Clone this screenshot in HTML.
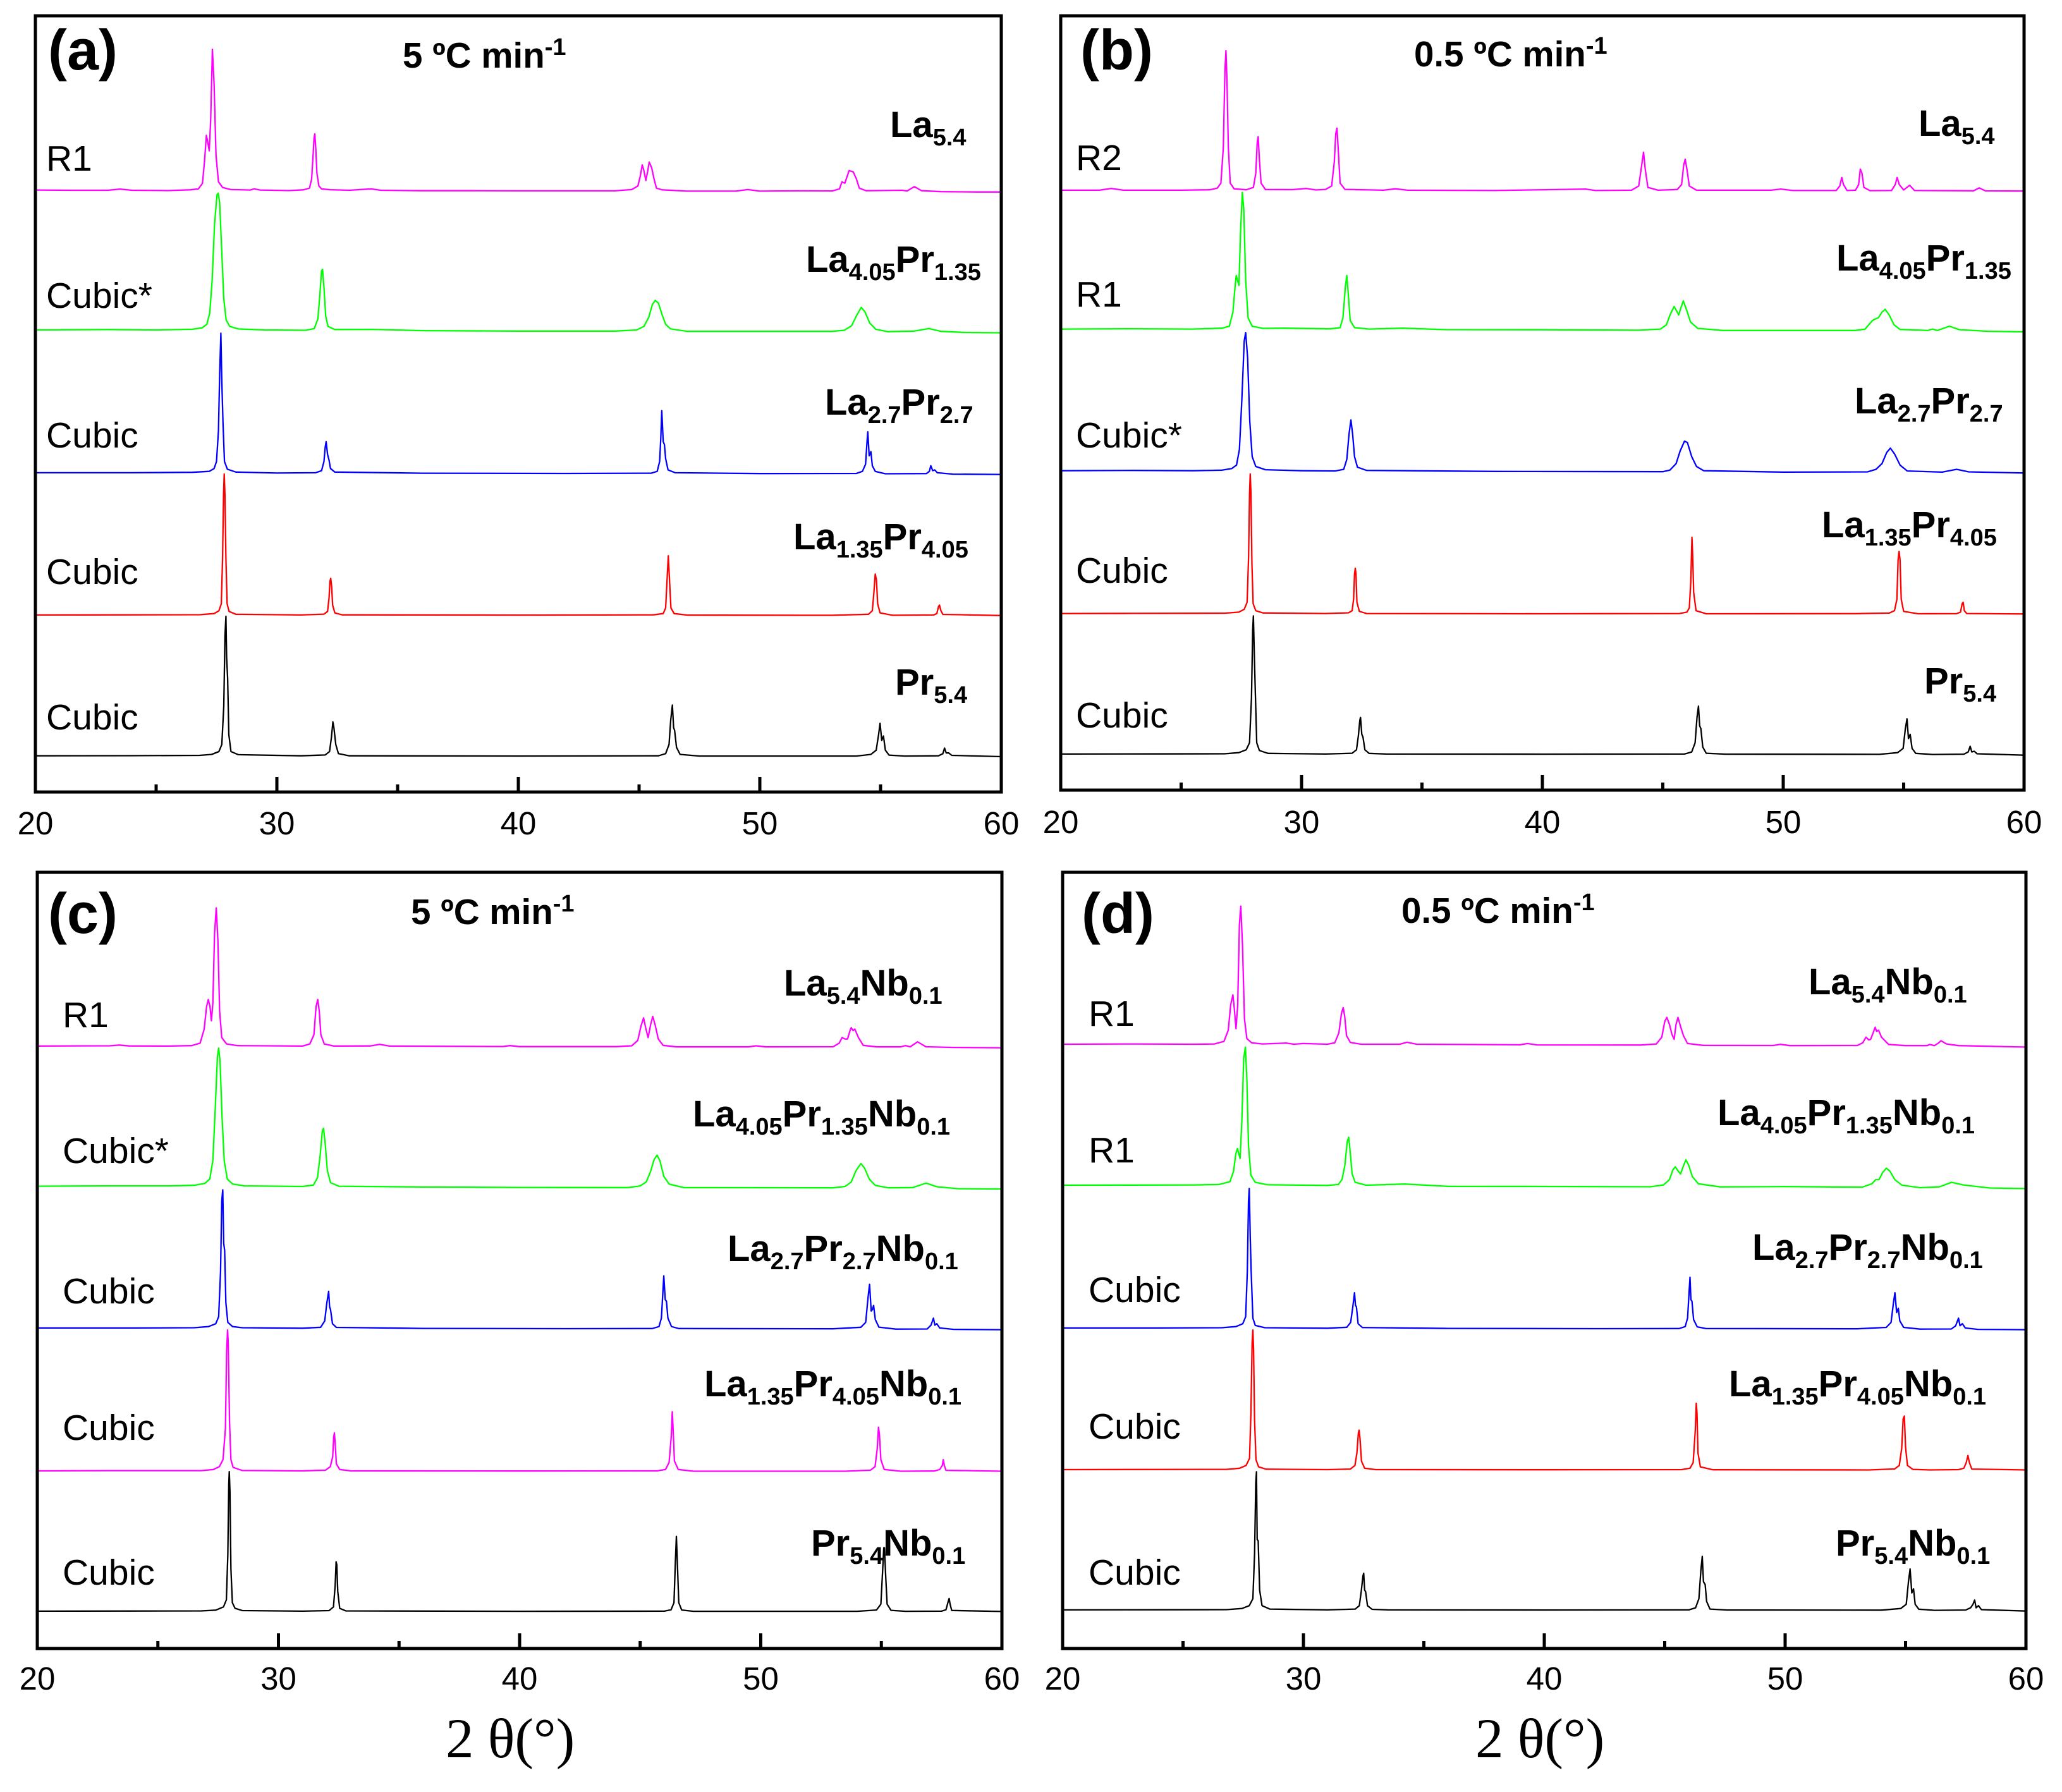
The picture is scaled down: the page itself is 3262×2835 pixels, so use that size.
<!DOCTYPE html>
<html lang="en">
<head>
<meta charset="utf-8">
<title>XRD patterns</title>
<style>
html,body{margin:0;padding:0;background:#fff;}
svg{display:block;}
text{font-family:"Liberation Sans",sans-serif;fill:#000;}
.pl{font-size:90px;font-weight:700;transform:translateY(2px);}
.ti{font-size:56.5px;font-weight:700;}
.ph{font-size:57px;transform:translateX(-2px);}
.co{font-size:58px;font-weight:700;transform:translate(-2px,1px);}
.co .s{font-size:38px;}
.ti .u{font-size:38px;}
.xl{font-family:"Liberation Serif",serif;font-size:89px;}
.tk{font-size:51px;text-anchor:middle;}
</style>
</head>
<body>
<svg id="fig" xmlns="http://www.w3.org/2000/svg" width="3262" height="2835" viewBox="0 0 3262 2835">
<rect x="0" y="0" width="3262" height="2835" fill="#fff"/>
<g id="plots"></g>

<text class="pl" x="76" y="108">(a)</text>
<text class="ti" x="637" y="107">5 ºC min<tspan class="u" dy="-20">-1</tspan></text>
<text class="ph" x="75" y="270">R1</text>
<text class="ph" x="75" y="487">Cubic*</text>
<text class="ph" x="75" y="708">Cubic</text>
<text class="ph" x="75" y="924">Cubic</text>
<text class="ph" x="75" y="1154">Cubic</text>
<text class="co" x="1410" y="216">La<tspan class="s" dy="13">5.4</tspan></text>
<text class="co" x="1277" y="429">La<tspan class="s" dy="13">4.05</tspan><tspan dy="-13">Pr</tspan><tspan class="s" dy="13">1.35</tspan></text>
<text class="co" x="1307" y="655">La<tspan class="s" dy="13">2.7</tspan><tspan dy="-13">Pr</tspan><tspan class="s" dy="13">2.7</tspan></text>
<text class="co" x="1257" y="868">La<tspan class="s" dy="13">1.35</tspan><tspan dy="-13">Pr</tspan><tspan class="s" dy="13">4.05</tspan></text>
<text class="co" x="1418" y="1098">Pr<tspan class="s" dy="13">5.4</tspan></text>

<text class="pl" x="1709" y="108">(b)</text>
<text class="ti" x="2237" y="105">0.5 ºC min<tspan class="u" dy="-20">-1</tspan></text>
<text class="ph" x="1704" y="269">R2</text>
<text class="ph" x="1704" y="485">R1</text>
<text class="ph" x="1704" y="708">Cubic*</text>
<text class="ph" x="1704" y="922">Cubic</text>
<text class="ph" x="1704" y="1151">Cubic</text>
<text class="co" x="3037" y="214">La<tspan class="s" dy="13">5.4</tspan></text>
<text class="co" x="2907" y="427">La<tspan class="s" dy="13">4.05</tspan><tspan dy="-13">Pr</tspan><tspan class="s" dy="13">1.35</tspan></text>
<text class="co" x="2936" y="653">La<tspan class="s" dy="13">2.7</tspan><tspan dy="-13">Pr</tspan><tspan class="s" dy="13">2.7</tspan></text>
<text class="co" x="2884" y="849">La<tspan class="s" dy="13">1.35</tspan><tspan dy="-13">Pr</tspan><tspan class="s" dy="13">4.05</tspan></text>
<text class="co" x="3046" y="1096">Pr<tspan class="s" dy="13">5.4</tspan></text>

<text class="pl" x="76" y="1474">(c)</text>
<text class="ti" x="650" y="1462">5 ºC min<tspan class="u" dy="-20">-1</tspan></text>
<text class="ph" x="101" y="1625">R1</text>
<text class="ph" x="101" y="1840">Cubic*</text>
<text class="ph" x="101" y="2062">Cubic</text>
<text class="ph" x="101" y="2278">Cubic</text>
<text class="ph" x="101" y="2507">Cubic</text>
<text class="co" x="1242" y="1574">La<tspan class="s" dy="13">5.4</tspan><tspan dy="-13">Nb</tspan><tspan class="s" dy="13">0.1</tspan></text>
<text class="co" x="1098" y="1781">La<tspan class="s" dy="13">4.05</tspan><tspan dy="-13">Pr</tspan><tspan class="s" dy="13">1.35</tspan><tspan dy="-13">Nb</tspan><tspan class="s" dy="13">0.1</tspan></text>
<text class="co" x="1153" y="1994">La<tspan class="s" dy="13">2.7</tspan><tspan dy="-13">Pr</tspan><tspan class="s" dy="13">2.7</tspan><tspan dy="-13">Nb</tspan><tspan class="s" dy="13">0.1</tspan></text>
<text class="co" x="1116" y="2208">La<tspan class="s" dy="13">1.35</tspan><tspan dy="-13">Pr</tspan><tspan class="s" dy="13">4.05</tspan><tspan dy="-13">Nb</tspan><tspan class="s" dy="13">0.1</tspan></text>
<text class="co" x="1285" y="2460">Pr<tspan class="s" dy="13">5.4</tspan><tspan dy="-13">Nb</tspan><tspan class="s" dy="13">0.1</tspan></text>
<text class="xl" x="705" y="2780" xml:space="preserve">2 θ(°)</text>

<text class="pl" x="1711" y="1474">(d)</text>
<text class="ti" x="2217" y="1460">0.5 ºC min<tspan class="u" dy="-20">-1</tspan></text>
<text class="ph" x="1724" y="1623">R1</text>
<text class="ph" x="1724" y="1839">R1</text>
<text class="ph" x="1724" y="2060">Cubic</text>
<text class="ph" x="1724" y="2276">Cubic</text>
<text class="ph" x="1724" y="2507">Cubic</text>
<text class="co" x="2863" y="1572">La<tspan class="s" dy="13">5.4</tspan><tspan dy="-13">Nb</tspan><tspan class="s" dy="13">0.1</tspan></text>
<text class="co" x="2719" y="1779">La<tspan class="s" dy="13">4.05</tspan><tspan dy="-13">Pr</tspan><tspan class="s" dy="13">1.35</tspan><tspan dy="-13">Nb</tspan><tspan class="s" dy="13">0.1</tspan></text>
<text class="co" x="2774" y="1992">La<tspan class="s" dy="13">2.7</tspan><tspan dy="-13">Pr</tspan><tspan class="s" dy="13">2.7</tspan><tspan dy="-13">Nb</tspan><tspan class="s" dy="13">0.1</tspan></text>
<text class="co" x="2737" y="2208">La<tspan class="s" dy="13">1.35</tspan><tspan dy="-13">Pr</tspan><tspan class="s" dy="13">4.05</tspan><tspan dy="-13">Nb</tspan><tspan class="s" dy="13">0.1</tspan></text>
<text class="co" x="2906" y="2460">Pr<tspan class="s" dy="13">5.4</tspan><tspan dy="-13">Nb</tspan><tspan class="s" dy="13">0.1</tspan></text>
<text class="xl" x="2334" y="2780" xml:space="preserve">2 θ(°)</text>
</svg>

<script>
// Shared axis values
const majorTicks = [20, 30, 40, 50, 60];
const minorTicks = [25, 35, 45, 55];
const majorTickLabels = ["20", "30", "40", "50", "60"];

// Stack offsets of each pattern (a.u.), top pattern first
const offsetsA = [426.9, 327.8, 226.5, 125.6, 25.7];
const offsetsB = [425.6, 327.1, 226.6, 125.3, 25.6];
const offsetsC = [427.4, 328, 227.4, 126, 26.5];
const offsetsD = [428.7, 328.7, 227.4, 126.9, 27.4];

// [2theta, intensity a.u.]
const A_La54 = [[20,.2],[21.5,0],[23,0],[23.5,.8],[24,0],[25.5,-.2],[26.4,.3],[26.75,1],[26.92,5],[27,20],[27.08,39],[27.14,34],[27.2,28],[27.26,50],[27.33,100],[27.4,75],[27.48,25],[27.58,6],[27.75,2],[28.1,.5],[28.9,.2],[29.05,1],[29.3,.2],[30.5,-.2],[31.1,.3],[31.35,1.5],[31.44,8],[31.5,25],[31.54,37],[31.57,40],[31.61,30],[31.66,12],[31.74,3],[31.85,1],[32.2,.4],[33,0],[33.9,1],[34.3,0],[36,-.3],[38,-.3],[40,-.4],[42,-.4],[44,-.4],[44.7,.5],[44.95,3],[45.05,10],[45.13,18],[45.2,14],[45.28,7],[45.35,13],[45.42,20],[45.52,16],[45.62,8],[45.72,1.5],[45.95,.3],[47,-.6],[49,-.6],[49.5,.5],[50,-.6],[51.8,-.4],[53,-.5],[53.3,1],[53.4,6],[53.52,5],[53.7,14],[53.87,13],[54,8],[54.12,1.5],[54.4,-.3],[55.9,0],[56.1,-.5],[56.4,2.6],[56.7,-.3],[57.5,-1],[59,-1.2],[60,-1.2]];
const A_La405Pr135 = [[20,0],[23,.3],[25,0],[26.5,.5],[26.9,1.5],[27.1,4],[27.22,12],[27.32,35],[27.42,75],[27.52,96],[27.57,97],[27.63,90],[27.72,55],[27.8,22],[27.9,7],[28.05,2.5],[28.4,.7],[29.5,0],[31.2,-.2],[31.55,1],[31.7,8],[31.78,25],[31.85,42],[31.89,43],[31.95,30],[32.02,10],[32.12,2.5],[32.4,.3],[34,.4],[36,-.5],[40,-.8],[44,-.8],[44.9,0],[45.2,2.5],[45.4,9],[45.55,18],[45.67,21],[45.8,19],[45.95,11],[46.1,4],[46.3,.8],[47,-1],[50,-1],[53,-1],[53.5,-.2],[53.8,3],[54,10],[54.2,16],[54.35,13],[54.55,5],[54.8,.5],[55.3,-1.2],[56.4,-.8],[57,1],[57.5,-1],[58.5,-1.8],[60,-2]];
const A_La27Pr27 = [[20,0],[24,0],[26.5,.3],[27.2,1],[27.4,3],[27.5,8],[27.58,30],[27.63,70],[27.68,99],[27.72,65],[27.77,35],[27.83,8],[27.95,2.5],[28.3,.5],[30,-.2],[31.6,0],[31.85,1.5],[31.95,8],[32,18],[32.04,22],[32.1,13],[32.16,9],[32.22,3],[32.4,.5],[36,-.3],[42,-.5],[45.5,-.3],[45.75,1],[45.85,8],[45.9,25],[45.94,44],[46,22],[46.05,20],[46.1,10],[46.2,2],[46.5,0],[50,-.6],[54,-.5],[54.25,1],[54.38,6],[54.44,22],[54.47,29],[54.53,12],[54.6,15],[54.66,5],[54.78,1],[55.2,-.7],[56.9,-.6],[57.02,1],[57.08,5],[57.16,1.5],[57.24,2],[57.35,0],[58,-1],[60,-1.2]];
const A_La135Pr405 = [[20,0],[24,.1],[26.8,.2],[27.4,1],[27.6,3],[27.7,8],[27.75,40],[27.79,85],[27.82,100],[27.85,85],[27.89,40],[27.94,8],[28.02,2.5],[28.3,.5],[31,0],[31.95,.6],[32.1,2.5],[32.16,12],[32.2,24],[32.23,26],[32.27,20],[32.31,7],[32.4,1.5],[32.7,.1],[40,-.1],[45.6,.1],[46,1],[46.1,5],[46.16,25],[46.21,42],[46.26,25],[46.32,5],[46.45,1],[47,-.1],[53,-.2],[54.5,.5],[54.66,3],[54.72,15],[54.78,29],[54.83,25],[54.88,8],[54.98,1.5],[55.5,-.2],[57.2,0],[57.33,1],[57.4,6],[57.44,7],[57.5,3],[57.58,.4],[60,-.4]];
const A_Pr54 = [[20,0],[24,.1],[26.8,.3],[27.3,1],[27.6,3],[27.72,8],[27.8,35],[27.85,85],[27.89,99],[27.92,70],[27.96,55],[28.01,15],[28.1,3],[28.4,.8],[31,0],[32,.6],[32.18,3],[32.26,13],[32.32,24],[32.36,20],[32.44,8],[32.55,1.5],[33,0],[40,-.2],[45.8,0],[46.1,1.5],[46.24,8],[46.31,25],[46.38,36],[46.43,20],[46.47,18],[46.55,6],[46.7,1],[47.5,-.2],[54,-.2],[54.6,1],[54.82,4],[54.92,15],[54.98,23],[55.05,11],[55.12,14],[55.2,4],[55.35,.5],[56,-.2],[57.4,0],[57.58,1.5],[57.65,5.5],[57.72,2],[57.82,2],[57.95,.3],[60,-.6]];

const B_La54 = [[20,0],[21.6,0],[22.1,1.2],[22.6,0],[25,0],[26.2,.3],[26.5,1.5],[26.65,5],[26.75,30],[26.82,85],[26.86,99],[26.9,80],[26.96,30],[27.04,5],[27.2,1],[27.7,.3],[28,2],[28.1,12],[28.16,34],[28.2,38],[28.25,22],[28.32,5],[28.5,.5],[29.6,.4],[30.2,1.2],[30.6,.2],[31,.6],[31.25,3],[31.36,20],[31.42,40],[31.47,44],[31.52,30],[31.6,5],[31.8,.6],[33.4,0],[33.9,1],[34.4,0],[38,-.2],[41.8,.8],[42.2,-.2],[43.7,0],[44,3],[44.1,15],[44.2,27],[44.27,15],[44.38,2],[44.8,0],[45.6,.5],[45.78,4],[45.87,18],[45.93,22],[46,15],[46.1,3],[46.4,0],[49.5,0],[49.9,.8],[50.4,-.2],[52.2,-.2],[52.35,3],[52.43,9],[52.5,4],[52.65,-.2],[53,0],[53.13,4],[53.2,15],[53.27,12],[53.35,2],[53.6,-.3],[54.5,-.2],[54.65,4],[54.73,9],[54.82,4],[55,.2],[55.25,3.5],[55.45,-.2],[57.9,-.4],[58.14,1.6],[58.4,-.5],[60,-.6]];
const B_La405Pr135 = [[20,0],[23,.2],[25.5,0],[26.7,.6],[27,2],[27.15,12],[27.24,30],[27.29,38],[27.35,34],[27.4,31],[27.47,70],[27.54,97],[27.6,85],[27.68,35],[27.78,8],[27.95,2],[28.4,.5],[29.3,.6],[31.2,.1],[31.6,1],[31.72,8],[31.82,30],[31.88,38],[31.94,25],[32.02,6],[32.2,1],[32.8,0],[34.2,.6],[36,-.4],[40,-.5],[44,-.8],[44.9,0],[45.15,3],[45.3,10],[45.47,16],[45.6,12],[45.66,10],[45.75,15],[45.85,20],[45.98,14],[46.15,5],[46.45,.5],[47.5,-1],[53,-1],[53.4,0],[53.7,6],[53.8,7],[53.95,8],[54.1,12],[54.23,14],[54.4,10],[54.6,3],[54.85,-.3],[56,-1],[56.2,0],[56.4,-1],[56.9,2],[57.3,-.4],[58.5,-1.6],[60,-2]];
const B_La27Pr27 = [[20,0],[23,.2],[25.5,0],[26.7,.4],[27.1,1.5],[27.3,4],[27.42,15],[27.52,50],[27.62,92],[27.68,98],[27.76,80],[27.85,35],[27.95,10],[28.1,3],[28.5,.7],[30,0],[31.4,-.2],[31.75,1],[31.88,8],[31.97,26],[32.05,36],[32.12,26],[32.2,10],[32.32,2.5],[32.7,.2],[38,-.5],[45,-.7],[45.3,.5],[45.55,5],[45.72,14],[45.9,21],[46.02,20],[46.2,10],[46.4,3],[46.7,0],[50,-1],[53.5,-.8],[53.85,1],[54.1,5],[54.3,13],[54.45,16],[54.62,12],[54.85,4],[55.15,-.2],[56.6,-1],[57.2,1],[57.7,-.8],[60,-1.6]];
const B_La135Pr405 = [[20,0],[23,.1],[26.8,.2],[27.4,1],[27.62,3],[27.74,8],[27.8,40],[27.84,85],[27.87,99],[27.9,85],[27.94,35],[27.99,7],[28.1,2],[28.4,.4],[31,0],[31.95,.5],[32.1,2],[32.16,10],[32.2,28],[32.23,32],[32.26,28],[32.3,8],[32.4,1.5],[32.7,0],[40,-.2],[45.7,0],[46,1],[46.1,4],[46.16,22],[46.21,54],[46.24,42],[46.28,15],[46.38,2],[46.8,-.2],[53,-.1],[54.4,.3],[54.62,2],[54.72,10],[54.77,38],[54.81,44],[54.85,38],[54.9,10],[55,1.5],[55.6,-.2],[57.2,-.1],[57.36,1],[57.43,7],[57.47,8],[57.52,2],[57.62,0],[60,-.3]];
const B_Pr54 = [[20,0],[24,.1],[26.8,.2],[27.4,1],[27.7,3],[27.84,8],[27.92,40],[27.97,88],[28,98],[28.04,70],[28.08,45],[28.14,8],[28.25,2.5],[28.6,.5],[31,0],[32.1,.6],[32.28,3],[32.36,13],[32.42,24],[32.45,26],[32.5,14],[32.55,12],[32.63,3],[32.8,.5],[33.5,0],[40,-.1],[45.9,0],[46.2,1.5],[46.34,8],[46.42,26],[46.48,34],[46.53,20],[46.58,18],[46.66,5],[46.8,.6],[47.6,-.1],[54,-.2],[54.75,1],[54.98,4],[55.07,18],[55.14,25],[55.2,11],[55.27,14],[55.35,4],[55.5,.5],[56.2,-.3],[57.5,-.1],[57.68,1.5],[57.76,5.5],[57.83,1.5],[57.93,2],[58.05,.2],[60,-.8]];

const C_La54Nb = [[20,0],[23,.2],[23.4,.7],[23.8,.1],[25.5,0],[26.4,.3],[26.75,2],[26.92,12],[27.02,28],[27.09,33],[27.16,28],[27.22,18],[27.28,30],[27.35,80],[27.42,98],[27.49,75],[27.56,25],[27.65,6],[27.85,1.5],[28.3,.3],[31,0],[31.3,1.5],[31.47,8],[31.56,28],[31.63,33],[31.69,25],[31.76,8],[31.9,1.5],[32.3,0],[33.8,.1],[34.2,1.2],[34.6,0],[39.3,-.3],[39.6,.3],[40,-.4],[44,-.4],[44.65,.2],[44.9,4],[45.03,14],[45.14,20],[45.24,12],[45.33,6],[45.43,15],[45.52,21],[45.62,15],[45.75,5],[45.95,.5],[46.5,-.6],[49.5,-.6],[49.8,.2],[50.2,-.6],[53,-.5],[53.25,2],[53.37,6],[53.5,5],[53.6,5],[53.7,11],[53.75,13],[53.83,11],[53.9,12],[54.05,6],[54.25,.5],[54.8,-.6],[55.8,-.6],[56,.3],[56.2,-.5],[56.5,3],[56.85,-.5],[58,-1],[60,-1.2]];
const C_La405Pr135Nb = [[20,0],[23,.2],[25.5,.2],[26.5,.6],[26.95,2],[27.15,5],[27.28,18],[27.38,55],[27.47,92],[27.52,98],[27.58,88],[27.66,50],[27.75,18],[27.88,5],[28.1,1.5],[28.6,.2],[31,-.2],[31.45,.8],[31.62,6],[31.73,22],[31.82,39],[31.87,41],[31.94,30],[32.03,11],[32.16,2.5],[32.5,0],[36,-.6],[40,-.9],[44.5,-1],[45,.2],[45.25,3],[45.42,10],[45.58,19],[45.7,22],[45.82,18],[45.98,7],[46.2,1.5],[46.8,-1],[53,-1.2],[53.5,-.2],[53.75,3],[53.95,11],[54.15,16],[54.3,13],[54.5,5],[54.75,.5],[55.3,-1.2],[56.3,-1],[56.86,2.2],[57.3,-.4],[58.2,-1.8],[60,-2]];
const C_La27Pr27Nb = [[20,0],[24,0],[26.5,.2],[27.1,1],[27.4,3],[27.52,8],[27.6,40],[27.65,90],[27.69,98],[27.73,60],[27.77,55],[27.82,18],[27.9,4],[28.1,1],[28.5,.2],[31,-.2],[31.75,.5],[31.92,5],[32,17],[32.08,26],[32.12,15],[32.16,13],[32.24,3],[32.4,.4],[36,-.3],[42,-.5],[45.5,-.4],[45.78,1],[45.88,7],[45.94,25],[45.98,37],[46.04,20],[46.09,19],[46.15,7],[46.3,1],[46.6,-.4],[53,-.6],[54.15,.5],[54.35,4],[54.45,22],[54.51,31],[54.58,12],[54.63,13],[54.68,16],[54.75,6],[54.9,.6],[55.6,-.8],[56.9,-.7],[57.06,2],[57.16,7],[57.22,2],[57.3,3],[57.42,0],[58,-1],[60,-1.2]];
const C_La135Pr405Nb = [[20,0],[23,.2],[26.8,.2],[27.3,1],[27.55,3],[27.7,8],[27.8,30],[27.85,85],[27.89,100],[27.92,90],[27.97,35],[28.03,8],[28.12,2.5],[28.5,.3],[31,0],[31.95,.5],[32.15,3],[32.25,10],[32.29,24],[32.32,27],[32.35,20],[32.4,5],[32.54,1],[33,0],[40,-.1],[45.7,0],[46.05,1],[46.2,6],[46.29,25],[46.33,42],[46.37,28],[46.42,7],[46.58,1],[47.2,-.2],[53.5,-.2],[54.55,.5],[54.74,3],[54.83,16],[54.88,31],[54.92,26],[54.98,8],[55.12,1],[55.8,-.2],[57.2,-.1],[57.42,1],[57.53,4],[57.57,8],[57.61,4],[57.68,.4],[60,-.2]];
const C_Pr54Nb = [[20,0],[24,.1],[26.8,.2],[27.4,.7],[27.72,3],[27.84,8],[27.9,40],[27.94,90],[27.96,99],[27.99,85],[28.03,30],[28.09,6],[28.2,2],[28.5,.4],[31,0],[32.1,.4],[32.28,3],[32.35,18],[32.39,35],[32.42,33],[32.46,14],[32.54,2],[32.8,.2],[40,-.1],[46,0],[46.28,1],[46.4,6],[46.46,35],[46.5,53],[46.54,35],[46.6,6],[46.72,.8],[47.2,-.1],[54,-.1],[54.8,.8],[54.98,5],[55.05,28],[55.1,45],[55.13,45],[55.18,25],[55.24,5],[55.4,.6],[56,-.1],[57.5,0],[57.68,1],[57.76,6],[57.81,9],[57.85,5],[57.92,.5],[60,-.2]];

const D_La54Nb = [[20,0],[23,.2],[25.5,0],[26.3,.2],[26.7,2],[26.88,10],[26.98,28],[27.07,35],[27.13,25],[27.2,11],[27.27,28],[27.34,85],[27.4,98],[27.47,70],[27.55,18],[27.65,4],[27.85,1],[28.3,.2],[29.3,.8],[29.6,0],[30,.5],[31,0],[31.3,1],[31.47,8],[31.58,22],[31.65,26],[31.71,20],[31.79,6],[31.95,1.2],[32.4,0],[34,0],[34.3,1.4],[34.7,0],[39,-.4],[39.3,.5],[39.7,-.5],[44,-.6],[44.65,.2],[44.88,5],[45,16],[45.09,19],[45.2,14],[45.3,7],[45.39,3.5],[45.47,14],[45.55,19],[45.65,13],[45.78,6],[45.95,.5],[46.6,-.8],[49.5,-.9],[49.8,-.1],[50.2,-1],[53,-.9],[53.22,1],[53.36,5],[53.48,3],[53.55,3.5],[53.65,8],[53.74,12],[53.8,9],[53.88,10],[54,5],[54.3,-.2],[55,-1],[55.9,-1],[56,-.2],[56.2,-1],[56.38,1],[56.47,2.5],[56.7,.2],[57.2,-1],[60,-2]];
const D_La405Pr135Nb = [[20,0],[23,.1],[25.5,.2],[26.5,.5],[26.95,2.5],[27.1,10],[27.19,22],[27.26,26],[27.32,22],[27.37,19],[27.44,45],[27.52,90],[27.59,98],[27.65,75],[27.72,28],[27.82,7],[28,2],[28.5,.3],[31,-.2],[31.45,.5],[31.6,4],[31.72,14],[31.82,31],[31.88,34],[31.95,22],[32.02,8],[32.15,2],[32.6,0],[34.2,.8],[36,-.8],[40,-.9],[44.4,-1.1],[44.95,.2],[45.2,4],[45.34,11],[45.44,13],[45.56,10],[45.66,8],[45.76,13],[45.88,18],[46,14],[46.15,6],[46.4,1],[47.3,-1.2],[50,-1],[53.2,-1.4],[53.6,1],[53.77,4],[53.9,4],[54.05,9],[54.2,12],[54.35,10],[54.55,4],[54.85,0],[55.6,-1.8],[56.4,-1.2],[56.91,2],[57.4,.2],[58.5,-2],[60,-2.4]];
const D_La27Pr27Nb = [[20,0],[24,0],[26.6,.2],[27.2,1],[27.48,3],[27.6,8],[27.67,40],[27.72,90],[27.75,99],[27.79,65],[27.83,40],[27.9,7],[28,1.8],[28.4,.2],[31,-.2],[31.8,.5],[31.96,4],[32.05,15],[32.12,25],[32.16,16],[32.2,15],[32.27,3],[32.45,.3],[36,-.3],[42,-.5],[45.6,-.4],[45.85,1],[45.95,7],[46.01,25],[46.05,36],[46.09,20],[46.13,19],[46.2,6],[46.35,.8],[46.7,-.4],[53,-.6],[54.2,.4],[54.4,4],[54.5,18],[54.56,25],[54.63,11],[54.7,14],[54.76,5],[54.92,.4],[55.6,-.8],[56.9,-.7],[57.08,1.5],[57.2,7],[57.26,1.6],[57.36,3],[57.48,0],[58,-1],[60,-1.2]];
const D_La135Pr405Nb = [[20,0],[23,.1],[26.8,.2],[27.35,1],[27.62,3],[27.76,8],[27.82,40],[27.87,90],[27.9,99],[27.93,85],[27.97,35],[28.03,7],[28.14,2],[28.45,.3],[31,0],[31.95,.4],[32.14,3],[32.22,12],[32.28,26],[32.31,28],[32.35,22],[32.41,6],[32.54,1],[33,0],[40,-.1],[45.7,0],[46.05,1],[46.18,5],[46.27,28],[46.31,47],[46.34,40],[46.38,12],[46.48,2],[47,-.1],[53.5,-.2],[54.55,.5],[54.74,3],[54.84,15],[54.9,36],[54.95,38],[55,16],[55.08,3],[55.3,.2],[56,-.2],[57.2,0],[57.42,1],[57.52,5],[57.59,10],[57.65,5],[57.75,.4],[60,-.2]];
const D_Pr54Nb = [[20,0],[24,.1],[26.8,.2],[27.45,1],[27.75,3],[27.9,8],[27.97,40],[28.02,90],[28.05,98],[28.08,50],[28.12,49],[28.18,14],[28.28,3],[28.6,.6],[31,0],[32.15,.6],[32.32,3],[32.4,13],[32.47,24],[32.5,26],[32.54,14],[32.58,13],[32.66,3],[32.85,.4],[33.5,0],[40,-.1],[46,0],[46.28,1.5],[46.42,8],[46.5,28],[46.56,38],[46.61,20],[46.68,18],[46.74,6],[46.88,.6],[47.6,-.1],[54,-.2],[54.8,1],[55.03,4],[55.12,20],[55.19,29],[55.26,12],[55.33,15],[55.4,4],[55.55,.5],[56.2,-.3],[57.5,-.1],[57.7,1.5],[57.8,4],[57.87,7],[57.93,1.5],[58.03,3],[58.15,.2],[60,-.8]];

const seriesA = [A_La54, A_La405Pr135, A_La27Pr27, A_La135Pr405, A_Pr54];
const seriesB = [B_La54, B_La405Pr135, B_La27Pr27, B_La135Pr405, B_Pr54];
const seriesC = [C_La54Nb, C_La405Pr135Nb, C_La27Pr27Nb, C_La135Pr405Nb, C_Pr54Nb];
const seriesD = [D_La54Nb, D_La405Pr135Nb, D_La27Pr27Nb, D_La135Pr405Nb, D_Pr54Nb];

const NS = "http://www.w3.org/2000/svg";
const root = document.getElementById("plots");
const PX_PER_UNIT = 2.23;
const XMIN = 20, XMAX = 60;

const panels = [
  {id: "a", l: 56,   r: 1584, t: 25,   b: 1253, lab: 1320, series: seriesA, off: offsetsA, colors: ["#ff00ff", "#00ff00", "#0000ff", "#ff0000", "#000000"]},
  {id: "b", l: 1678, r: 3202, t: 25,   b: 1250, lab: 1318, series: seriesB, off: offsetsB, colors: ["#ff00ff", "#00ff00", "#0000ff", "#ff0000", "#000000"]},
  {id: "c", l: 59,   r: 1585, t: 1380, b: 2608, lab: 2673, series: seriesC, off: offsetsC, colors: ["#ff00ff", "#00ff00", "#0000ff", "#ff00ff", "#000000"]},
  {id: "d", l: 1681, r: 3205, t: 1380, b: 2608, lab: 2673, series: seriesD, off: offsetsD, colors: ["#ff00ff", "#00ff00", "#0000ff", "#ff0000", "#000000"]}
];

function drawPanel(p) {
  const xScale = v => p.l + (v - XMIN) / (XMAX - XMIN) * (p.r - p.l);
  const yScale = v => p.b - v * PX_PER_UNIT;

  p.series.forEach((pts, i) => {
    const d = pts.map((q, j) => (j ? "L" : "M") + xScale(q[0]).toFixed(1) + " " + yScale(q[1] + p.off[i]).toFixed(1)).join("");
    const path = document.createElementNS(NS, "path");
    path.setAttribute("d", d);
    path.setAttribute("fill", "none");
    path.setAttribute("stroke", p.colors[i]);
    path.setAttribute("stroke-width", "2.3");
    path.setAttribute("stroke-linejoin", "round");
    
    
    root.appendChild(path);
  });

  const frame = document.createElementNS(NS, "rect");
  frame.setAttribute("x", p.l);
  frame.setAttribute("y", p.t);
  frame.setAttribute("width", p.r - p.l);
  frame.setAttribute("height", p.b - p.t);
  frame.setAttribute("fill", "none");
  frame.setAttribute("stroke", "#000");
  frame.setAttribute("stroke-width", "5");
  
  
  root.appendChild(frame);

  majorTicks.forEach((v, i) => {
    const t = document.createElementNS(NS, "line");
    t.setAttribute("x1", xScale(v));
    t.setAttribute("x2", xScale(v));
    t.setAttribute("y1", p.b);
    t.setAttribute("y2", p.b - 24);
    t.setAttribute("stroke", "#000");
    t.setAttribute("stroke-width", "5");
    
    
    root.appendChild(t);
    const lab = document.createElementNS(NS, "text");
    lab.setAttribute("class", "tk");
    lab.setAttribute("x", xScale(v));
    lab.setAttribute("y", p.lab);
    lab.textContent = majorTickLabels[i];
    
    
    root.appendChild(lab);
  });
  minorTicks.forEach(v => {
    const t = document.createElementNS(NS, "line");
    t.setAttribute("x1", xScale(v));
    t.setAttribute("x2", xScale(v));
    t.setAttribute("y1", p.b);
    t.setAttribute("y2", p.b - 12);
    t.setAttribute("stroke", "#000");
    t.setAttribute("stroke-width", "5");
    
    
    root.appendChild(t);
  });
}
panels.forEach(drawPanel);
</script>
</body>
</html>
